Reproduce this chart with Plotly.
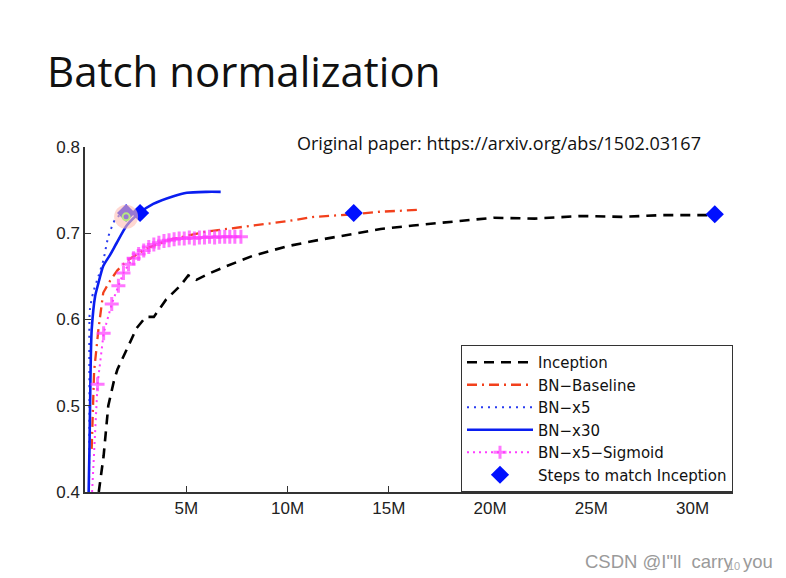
import plotly.graph_objects as go

# ---- data (x in millions of training steps, y = accuracy) ----
inception_x = [0.68, 0.92, 1.15, 1.42, 1.6, 2.08, 2.55, 3.0, 3.4, 4.0, 4.7, 5.1, 5.5, 6.2, 7.0,
               8.3, 10.0, 11.5, 13.0, 14.6, 16.2, 18.0, 20.2, 22.2, 24.5, 26.5, 28.5, 31.0]
inception_y = [0.40, 0.442, 0.50, 0.528, 0.542, 0.566, 0.590, 0.603, 0.603, 0.623, 0.639, 0.651,
               0.646, 0.654, 0.662, 0.674, 0.685, 0.692, 0.698, 0.705, 0.709, 0.713, 0.718,
               0.717, 0.720, 0.719, 0.721, 0.721]

baseline_x = [0.33, 0.40, 0.45, 0.66, 0.90, 1.24, 1.60, 2.06, 3.0, 4.0, 5.0, 6.0, 7.0, 8.3,
              10.0, 11.3, 13.3, 14.6, 16.4]
baseline_y = [0.45, 0.50, 0.54, 0.588, 0.631, 0.645, 0.657, 0.668, 0.682, 0.691, 0.697, 0.702,
              0.705, 0.709, 0.714, 0.719, 0.722, 0.725, 0.727]

bnx5_x = [0.20, 0.22, 0.24, 0.40, 0.66, 0.91, 1.15, 1.49, 1.82, 2.03]
bnx5_y = [0.40, 0.50, 0.611, 0.631, 0.650, 0.669, 0.696, 0.716, 0.723, 0.726]

bnx30_x = [0.18, 0.22, 0.25, 0.29, 0.33, 0.50, 0.66, 0.90, 1.24, 1.57, 2.06, 2.72, 3.37, 4.37,
           5.03, 6.0, 6.7]
bnx30_y = [0.40, 0.45, 0.50, 0.56, 0.588, 0.627, 0.642, 0.662, 0.675, 0.689, 0.709, 0.724,
           0.734, 0.743, 0.747, 0.748, 0.748]

sigmoid_x = [0.35, 0.50, 0.62, 0.92, 1.32, 1.65, 1.90, 2.15, 2.40, 2.65, 2.90, 3.15, 3.40, 3.65,
             3.90, 4.15, 4.40, 4.65, 4.90, 5.15, 5.40, 5.65, 5.90, 6.15, 6.40, 6.65, 6.90,
             7.15, 7.40, 7.70]
sigmoid_y = [0.40, 0.47, 0.525, 0.584, 0.618, 0.639, 0.654, 0.664, 0.671, 0.676, 0.680, 0.684,
             0.687, 0.689, 0.691, 0.692, 0.693, 0.694, 0.694, 0.695, 0.694, 0.695, 0.695,
             0.696, 0.695, 0.696, 0.696, 0.696, 0.696, 0.696]

match_x = [2.03, 2.72, 13.27, 31.1]
match_y = [0.7235, 0.7235, 0.7235, 0.722]

pointer_x = [2.03]
pointer_y = [0.719]

x_tickvals = [5, 10, 15, 20, 25, 30]
x_ticktext = ["5M", "10M", "15M", "20M", "25M", "30M"]
y_tickvals = [0.4, 0.5, 0.6, 0.7, 0.8]

series_names = ["Inception", "BN\u2212Baseline", "BN\u2212x5", "BN\u2212x30",
                "BN\u2212x5\u2212Sigmoid", "Steps to match Inception"]

fig = go.Figure()

fig.add_trace(go.Scatter(x=inception_x, y=inception_y, mode="lines", name=series_names[0],
                         line=dict(color="black", width=2.6, dash="10px,7px")))
fig.add_trace(go.Scatter(x=baseline_x, y=baseline_y, mode="lines", name=series_names[1],
                         line=dict(color="#f2401c", width=2.3, dash="10px,5px,2px,5px")))
fig.add_trace(go.Scatter(x=bnx5_x, y=bnx5_y, mode="lines", name=series_names[2],
                         line=dict(color="#2a3cf0", width=2, dash="2px,5px", shape="spline",
                                   smoothing=0.6)))
fig.add_trace(go.Scatter(x=bnx30_x, y=bnx30_y, mode="lines", name=series_names[3],
                         line=dict(color="#0a1ef0", width=2.6, shape="spline", smoothing=0.6)))
sig_sizes = [0, 0] + [10] * (len(sigmoid_x) - 2)
fig.add_trace(go.Scatter(x=sigmoid_x, y=sigmoid_y, mode="lines+markers", name=series_names[4],
                         line=dict(color="#ff3cff", width=2, dash="2px,4px"),
                         marker=dict(symbol="cross-thin-open", size=sig_sizes,
                                     line=dict(color="#ff1aff", width=3))))
fig.add_trace(go.Scatter(x=match_x, y=match_y, mode="markers", name=series_names[5],
                         marker=dict(symbol="diamond", size=14, color="#0010ff")))
# laser-pointer glow from the slide
fig.add_trace(go.Scatter(x=pointer_x, y=pointer_y, mode="markers", showlegend=False,
                         hoverinfo="skip",
                         marker=dict(symbol="circle", size=24, color="rgba(255,190,180,0.6)")))
fig.add_trace(go.Scatter(x=pointer_x, y=pointer_y, mode="markers", showlegend=False,
                         hoverinfo="skip",
                         marker=dict(symbol="circle-open", size=7,
                                     line=dict(color="#e8101a", width=2))))

axis_font = dict(family="Liberation Sans, Arial, sans-serif", size=17, color="#222")

# page body adds an 8px offset, so the figure is 8px smaller and margins are shifted
fig.update_layout(
    width=778, height=570,
    margin=dict(l=77, r=53, t=139, b=86),
    paper_bgcolor="white", plot_bgcolor="white",
    showlegend=True,
    legend=dict(x=1, y=0, xanchor="right", yanchor="bottom",
                bgcolor="white", bordercolor="#333", borderwidth=1,
                font=dict(family="DejaVu Sans, Liberation Sans, sans-serif", size=15,
                          color="#111"),
                itemwidth=66, tracegroupgap=0),
    xaxis=dict(range=[0, 32], tickvals=x_tickvals, ticktext=x_ticktext,
               ticks="inside", ticklen=6, tickwidth=1.2, tickcolor="#333",
               showline=True, linecolor="#333", linewidth=1.5,
               showgrid=False, zeroline=False, tickfont=axis_font),
    yaxis=dict(range=[0.4, 0.8], tickvals=y_tickvals, tickformat=".1f",
               ticks="inside", ticklen=6, tickwidth=1.2, tickcolor="#333",
               showline=True, linecolor="#333", linewidth=1.5,
               showgrid=False, zeroline=False, tickfont=axis_font),
    annotations=[
        dict(text="Batch normalization", xref="paper", yref="paper", x=-0.062, y=1.0,
             xanchor="left", yanchor="middle", yshift=77, showarrow=False,
             font=dict(family="Open Sans, Lato, sans-serif", size=42, color="#111")),
        dict(text="Original paper: https://arxiv.org/abs/1502.03167", xref="paper",
             yref="paper", x=0.324, y=1.0, xanchor="left", yanchor="middle", yshift=4,
             showarrow=False,
             font=dict(family="Open Sans, Lato, sans-serif", size=18, color="#111")),
        dict(text="CSDN @I\"ll  carry  you", xref="paper", yref="paper", x=0.7685, y=0,
             xanchor="left", yanchor="middle", yshift=-69, showarrow=False,
             font=dict(family="Liberation Sans, Arial, sans-serif", size=18.5,
                       color="#9a9a9a")),
        dict(text="10", xref="paper", yref="paper", x=0.989, y=0,
             xanchor="left", yanchor="middle", yshift=-74, showarrow=False,
             font=dict(family="Liberation Sans, Arial, sans-serif", size=11, color="#aaa")),
    ],
)

fig.write_html("out.html")
